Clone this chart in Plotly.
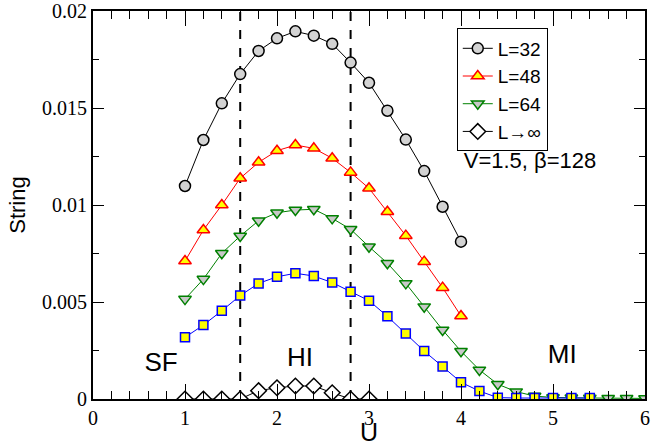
import plotly.graph_objects as go

U32 = [1.0, 1.2, 1.4, 1.6, 1.8, 2.0, 2.2, 2.4, 2.6, 2.8, 3.0, 3.2, 3.4, 3.6, 3.8, 4.0]
S32 = [0.01098, 0.01335, 0.01524, 0.01675, 0.01794, 0.01859, 0.01895, 0.01873, 0.01831,
       0.01734, 0.0163, 0.01486, 0.01337, 0.01175, 0.00991, 0.00811]

U48 = [1.0, 1.2, 1.4, 1.6, 1.8, 2.0, 2.2, 2.4, 2.6, 2.8, 3.0, 3.2, 3.4, 3.6, 3.8, 4.0]
S48 = [0.00711, 0.00871, 0.0100, 0.01138, 0.0122, 0.0128, 0.01309, 0.01292, 0.01241,
       0.01168, 0.01086, 0.00965, 0.00842, 0.00708, 0.00574, 0.00428]

U64 = [1.0, 1.2, 1.4, 1.6, 1.8, 2.0, 2.2, 2.4, 2.6, 2.8, 3.0, 3.2, 3.4, 3.6, 3.8, 4.0,
       4.2, 4.4, 4.6, 4.8, 5.0, 5.2, 5.4, 5.6, 5.8, 6.0]
S64 = [0.00515, 0.00618, 0.00751, 0.0084, 0.00919, 0.0096, 0.00974, 0.00978, 0.00931,
       0.00875, 0.00785, 0.0070, 0.00596, 0.00476, 0.00356, 0.00246,
       0.0015, 0.00076, 0.00038, 0.00015, 0.00008, 0.00006, 0.00005, 0.00004, 0.00004, 0.00003]

UBIG = [1.0, 1.2, 1.4, 1.6, 1.8, 2.0, 2.2, 2.4, 2.6, 2.8, 3.0, 3.2, 3.4, 3.6, 3.8, 4.0,
        4.2, 4.4, 4.6, 4.8, 5.0, 5.2, 5.4]
SBIG = [0.00318, 0.00381, 0.00455, 0.00533, 0.00596, 0.0063, 0.00648, 0.00634, 0.0060,
        0.00553, 0.00507, 0.00426, 0.00338, 0.00247, 0.00167, 0.00086,
        0.00041, 0.00007, 0.00005, 0.00005, 0.00005, 0.00005, 0.00005]

UINF = [1.0, 1.2, 1.4, 1.6, 1.8, 2.0, 2.2, 2.4, 2.6, 2.8, 3.0]
SINF = [0.0, 0.0, 0.0, 0.0, 0.00043, 0.00058, 0.00067, 0.00067, 0.00032, 0.0, 0.0]

PHASE_BOUNDS = [1.6, 2.8]
Y_RANGE = [0, 0.02]
PHASE_NAMES = ["SF", "HI", "MI"]
PHASE_X = [0.74, 2.25, 5.1]
PHASE_Y = [0.0018, 0.00206, 0.00218]
PARAM_TEXT = ["V=1.5, &#946;=128"]
PARAM_X = [4.75]
PARAM_Y = [0.0122]
SERIES_NAMES = ["L=32", "L=48", "L=64", "L&#8594;&#8734;"]
Y_TICKS = [0, 0.005, 0.01, 0.015, 0.02]
Y_TICK_TEXT = ["0", "0.005", "0.01", "0.015", "0.02"]

fig = go.Figure()

for xb in PHASE_BOUNDS:
    fig.add_trace(go.Scatter(x=[xb, xb], y=Y_RANGE, mode="lines", showlegend=False,
                             hoverinfo="skip",
                             line=dict(color="black", width=2, dash="dash")))

fig.add_trace(go.Scatter(x=U32, y=S32, mode="lines+markers", name=SERIES_NAMES[0],
                         line=dict(color="black", width=1),
                         marker=dict(symbol="circle", size=11, color="#d3d3d3",
                                     line=dict(color="black", width=1.5))))
fig.add_trace(go.Scatter(x=U48, y=S48, mode="lines+markers", name=SERIES_NAMES[1],
                         line=dict(color="red", width=1),
                         marker=dict(symbol="triangle-up", size=11, color="yellow",
                                     line=dict(color="red", width=1.5))))
fig.add_trace(go.Scatter(x=U64, y=S64, mode="lines+markers", name=SERIES_NAMES[2],
                         line=dict(color="green", width=1),
                         marker=dict(symbol="triangle-down", size=11, color="#c8c8c8",
                                     line=dict(color="green", width=1.5))))
fig.add_trace(go.Scatter(x=UBIG, y=SBIG, mode="lines+markers", name="L",
                         showlegend=False,
                         line=dict(color="blue", width=1),
                         marker=dict(symbol="square", size=9, color="yellow",
                                     line=dict(color="blue", width=1.5))))
fig.add_trace(go.Scatter(x=UINF, y=SINF, mode="lines+markers", name=SERIES_NAMES[3],
                         line=dict(color="black", width=1),
                         marker=dict(symbol="diamond", size=12, color="white",
                                     line=dict(color="black", width=1.5))))

fig.add_trace(go.Scatter(x=PHASE_X, y=PHASE_Y, text=PHASE_NAMES, mode="text",
                         showlegend=False, hoverinfo="skip",
                         textfont=dict(family="Arial", size=26, color="black")))
fig.add_trace(go.Scatter(x=PARAM_X, y=PARAM_Y, text=PARAM_TEXT, mode="text",
                         showlegend=False, hoverinfo="skip",
                         textfont=dict(family="Arial", size=22, color="black")))

fig.update_layout(
    width=651, height=446,
    margin=dict(l=93, r=6, t=11, b=47, autoexpand=False),
    plot_bgcolor="white",
    xaxis=dict(range=[0, 6], dtick=1, showline=True, linecolor="black", linewidth=2,
               mirror="allticks", ticks="inside", ticklen=15, tickwidth=1, tickcolor="black",
               showgrid=False, zeroline=False,
               minor=dict(dtick=0.2, ticks="inside", ticklen=8, tickcolor="black",
                          tickwidth=1, showgrid=False),
               tickfont=dict(family="Times New Roman", size=20, color="black"),
               title=dict(text="U", standoff=6,
                          font=dict(family="Arial", size=25, color="black"))),
    yaxis=dict(range=Y_RANGE, tickvals=Y_TICKS, ticktext=Y_TICK_TEXT,
               showline=True, linecolor="black", linewidth=2,
               mirror="allticks", ticks="inside", ticklen=11, tickwidth=1, tickcolor="black",
               showgrid=False, zeroline=False,
               minor=dict(dtick=0.0025, tick0=0, ticks="inside", ticklen=6,
                          tickcolor="black", tickwidth=1, showgrid=False),
               tickfont=dict(family="Times New Roman", size=20, color="black"),
               title=dict(text="String", standoff=10,
                          font=dict(family="Arial", size=22, color="black"))),
    legend=dict(x=0.659, y=0.955, xanchor="left", yanchor="top",
                bordercolor="black", borderwidth=1, bgcolor="white",
                font=dict(family="Arial", size=19, color="black")),
)

fig.write_html("out.html", config={"displayModeBar": False},
               post_script="document.body.style.margin='0';")
